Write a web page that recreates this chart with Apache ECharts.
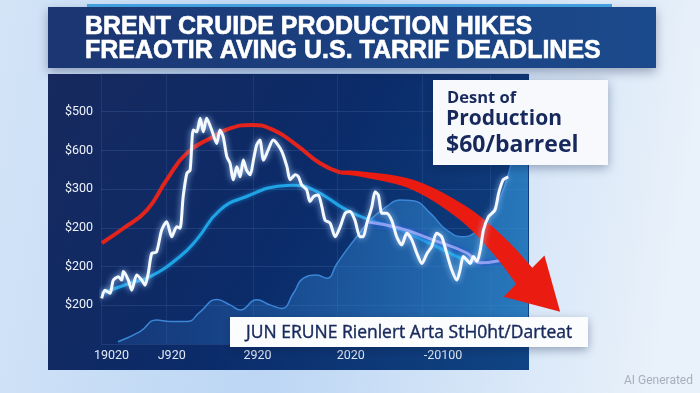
<!DOCTYPE html>
<html><head><meta charset="utf-8">
<script src="https://cdn.jsdelivr.net/npm/echarts@6/dist/echarts.min.js"></script>
<style>html,body{margin:0;padding:0;background:#d6e6f7;}#c{width:700px;height:393px;}</style>
</head><body><div id="c"></div>
<script>
// ---- texts ----
const titleLine1 = 'BRENT CRUIDE PRODUCTION HIKES';
const titleLine2 = 'FREAOTIR AVING U.S. TARRIF DEADLINES';
const calloutLines = ['Desnt of', 'Production', '$60/barreel'];
const bottomNote = 'JUN ERUNE Rienlert Arta StH0ht/Darteat';
const watermark = 'AI Generated';

// ---- axes ----
const yTickLabels = ['', '$200', '$200', '$200', '$300', '$600', '$500', ''];
const xTickPos = [2.3, 15.4, 34.1, 54.4, 74.5];
const xTickLabels = ['19020', 'J920', '2920', '2020', '-20100'];
const xGridPos = [0.15, 14.2, 33.2, 51.4, 69.9, 84.7];

// ---- series: white (price) ----
const whiteX = [0.15,0.87,1.96,2.68,3.77,4.51,4.86,5.95,6.69,7.78,8.87,9.59,10.3,11.05,12.1,13.2,14.3,15.4,16.5,17.2,17.9,18.7,19.4,20.1,20.85,21.6,22.3,23.0,24.1,25.2,25.9,26.6,27.4,28.1,28.8,29.6,30.3,31.0,31.7,32.5,33.2,33.9,34.6,35.4,36.4,37.5,38.3,39.4,40.5,41.2,42.3,43.0,43.7,44.8,45.5,46.3,47.3,48.1,48.8,49.9,51.0,52.1,53.2,54.2,55.3,56.4,57.1,57.9,59.0,59.7,60.4,61.2,62.2,63.3,64.4,65.5,66.6,67.7,68.8,69.9,71.0,72.0,73.1,74.2,75.3,76.4,77.5,78.2,78.9,79.7,80.4,81.1,81.9,82.6,83.3,84.4,85.8,86.6,87.6,88.7];
const whiteY = [11.8,13.9,13.1,16.5,17.4,16.5,18.7,16.5,13.9,17.8,16.5,15.2,18.3,23.4,23.8,29.4,31.6,27.7,30.3,29.9,38.1,44.1,44.9,55.3,54.8,58.3,54.8,58.3,55.3,51.8,55.3,53.6,48.4,46.7,42.4,45.8,43.2,47.5,44.9,43.7,47.5,51.4,52.7,47.5,50.1,52.7,51.8,49.7,45.8,42.4,43.7,43.2,41.1,39.8,36.8,38.1,38.5,35.5,32.0,31.2,27.7,30.3,33.8,34.2,32.0,27.7,27.7,31.2,35.5,39.3,38.5,33.8,33.8,32.0,27.7,25.6,28.6,26.9,23.4,20.8,23.4,25.1,28.6,27.7,23.4,19.1,16.5,19.1,22.6,21.7,20.8,22.6,21.3,24.3,29.4,32.9,34.6,38.9,42.4,43.2];

// ---- series: red trend ----
const redX = [0.2,4.9,10.0,14.3,18.7,24.5,28.1,32.8,37.5,42.6,47.7,52.1];
const redY = [26.1,29.9,34.6,42.4,49.3,53.6,55.7,56.6,55.3,51.4,46.7,44.3];

// ---- red arrow path (last point = arrow tip) ----
const arrowX = [52.1,57.1,68.0,78.9,86.9,92.6,100.0];
const arrowY = [44.3,43.8,41.1,33.8,25.1,17.0,8.3];

// ---- series: cyan average ----
const cyanX = [0.15,6.3,10.7,17.2,20.8,25.9,31.7,39.0,41.9,46.3,53.5,58.6,64.4,71.7,77.5,81.1];
const cyanY = [13.1,15.7,17.4,22.6,26.9,34.6,38.1,40.8,41.0,39.8,34.6,32.0,29.9,26.0,22.6,21.0];

// ---- series: lavender average ----
const lavX = [57.9,65.1,72.3,79.7,82.6,87.6];
const lavY = [31.6,29.9,26.9,23.5,21.0,21.7];

// ---- series: production area ----
const areaX = [3.7,8.5,12.1,15.0,18.7,21.6,25.2,28.1,30.3,33.9,36.8,39.4,41.9,44.1,47.0,49.2,51.4,53.5,55.7,58.6,62.2,65.1,68.0,71.7,75.3,78.9,82.6,86.1,88.0,89.5,90.8,93.0];
const areaY = [0.6,3.2,6.2,5.8,5.8,8.3,11.5,10.1,8.8,11.4,10.1,9.2,13.1,17.0,17.8,17.0,20.8,24.3,27.7,32.0,35.5,37.2,37.0,33.8,29.4,27.7,30.3,35.9,41.1,47.5,54.0,60.4];

const zip = (xs, ys) => xs.map((x, i) => [x, ys[i]]);

const chart = echarts.init(document.getElementById('c'), null, {renderer: 'canvas'});

function arrowRender(params, api) {
  if (params.dataIndex !== 0) return;
  const pts = arrowX.map((x, i) => api.coord([x, arrowY[i]]));
  const tip = pts.pop();
  const dense = [];
  for (let i = 0; i < pts.length - 1; i++) {
    const p0 = pts[Math.max(i - 1, 0)], p1 = pts[i], p2 = pts[i + 1], p3 = pts[Math.min(i + 2, pts.length - 1)];
    for (let s = 0; s < 12; s++) {
      const t = s / 12, t2 = t * t, t3 = t2 * t;
      dense.push([0, 1].map(k => 0.5 * ((2 * p1[k]) + (-p0[k] + p2[k]) * t + (2 * p0[k] - 5 * p1[k] + 4 * p2[k] - p3[k]) * t2 + (-p0[k] + 3 * p1[k] - 3 * p2[k] + p3[k]) * t3)));
    }
  }
  dense.push(pts[pts.length - 1]);
  const L = [0];
  for (let i = 1; i < dense.length; i++) L.push(L[i - 1] + Math.hypot(dense[i][0] - dense[i - 1][0], dense[i][1] - dense[i - 1][1]));
  const total = L[L.length - 1];
  const up = [], lo = [];
  dense.forEach((p, i) => {
    const a = dense[Math.max(i - 1, 0)], b = dense[Math.min(i + 1, dense.length - 1)];
    let dx = b[0] - a[0], dy = b[1] - a[1];
    const len = Math.hypot(dx, dy) || 1; dx /= len; dy /= len;
    const w = (4 + 19 * Math.pow(L[i] / total, 1.1)) / 2;
    up.push([p[0] + dy * w, p[1] - dx * w]);
    lo.push([p[0] - dy * w, p[1] + dx * w]);
  });
  const base = dense[dense.length - 1];
  let hx = tip[0] - base[0], hy = tip[1] - base[1];
  const hl = Math.hypot(hx, hy); hx /= hl; hy /= hl;
  const hw = 29;
  const bb = [base[0] - hx * 3, base[1] - hy * 3];
  const head = [[bb[0] + hy * hw, bb[1] - hx * hw], [tip[0], tip[1]], [bb[0] - hy * hw, bb[1] + hx * hw]];
  return {
    type: 'group',
    children: [
      {type: 'polygon', shape: {points: up.concat(lo.reverse())}, style: {fill: '#ea1c12'}},
      {type: 'polygon', shape: {points: head}, style: {fill: '#ea1c12'}}
    ]
  };
}

const option = {
  animation: false,
  backgroundColor: {
    type: 'linear', x: 0, y: 0, x2: 1, y2: 0.3,
    colorStops: [{offset: 0, color: '#d3e4f7'}, {offset: 0.45, color: '#bcd6f4'}, {offset: 1, color: '#e9f1fa'}]
  },
  grid: {left: 101, right: 172, top: 73, bottom: 49},
  xAxis: {
    type: 'value', min: 0, max: 93,
    axisLine: {show: false}, axisTick: {show: false}, splitLine: {show: false},
    axisLabel: {
      customValues: xTickPos,
      formatter: v => { const i = xTickPos.indexOf(v); return i >= 0 ? xTickLabels[i] : ''; },
      color: '#e2eaf6', fontSize: 12.5, fontFamily: 'Roboto', margin: 5
    }
  },
  yAxis: {
    type: 'value', min: 0, max: 70, interval: 10,
    axisLine: {show: false}, axisTick: {show: false},
    splitLine: {lineStyle: {color: 'rgba(90,130,200,0.22)', width: 1}},
    axisLabel: {
      formatter: v => yTickLabels[Math.round(v / 10)] || '',
      color: '#eef3fa', fontSize: 12.5, fontFamily: 'Roboto', margin: 8
    }
  },
  graphic: [
    {type: 'rect', z: -5, shape: {x: 48, y: 74, width: 481, height: 296},
      style: {fill: {type: 'linear', x: 0, y: 0, x2: 1, y2: 1,
        colorStops: [{offset: 0, color: '#17295d'}, {offset: 0.5, color: '#0b2b69'}, {offset: 1, color: '#0f4484'}]}}},
    {type: 'rect', z: 50, shape: {x: 87, y: 4, width: 525, height: 4}, style: {fill: '#44a6e4'}},
    {type: 'rect', z: 51, shape: {x: 48, y: 7, width: 608, height: 61},
      style: {fill: {type: 'linear', x: 0, y: 0, x2: 1, y2: 0,
        colorStops: [{offset: 0, color: '#1b3672'}, {offset: 1, color: '#1b4a8c'}]},
        shadowBlur: 10, shadowColor: 'rgba(20,30,70,0.35)', shadowOffsetY: 4}},
    {type: 'text', z: 52, x: 85, y: 27, style: {text: titleLine1, fill: '#ffffff', fontFamily: 'Liberation Sans', fontWeight: 'bold', fontSize: 25, verticalAlign: 'middle', stroke: '#ffffff', lineWidth: 0.6}},
    {type: 'text', z: 52, x: 85, y: 51, style: {text: titleLine2, fill: '#ffffff', fontFamily: 'Liberation Sans', fontWeight: 'bold', fontSize: 25, verticalAlign: 'middle', stroke: '#ffffff', lineWidth: 0.6}},
    {type: 'rect', z: 60, shape: {x: 433, y: 80, width: 175, height: 85},
      style: {fill: '#f7f9fc', shadowBlur: 10, shadowColor: 'rgba(10,30,70,0.35)', shadowOffsetY: 3}},
    {type: 'text', z: 61, x: 447, y: 98, style: {text: calloutLines[0], fill: '#17295c', fontFamily: 'Open Sans', fontWeight: 'bold', fontSize: 16.5, verticalAlign: 'middle'}},
    {type: 'text', z: 61, x: 446, y: 119, style: {text: calloutLines[1], fill: '#17295c', fontFamily: 'Open Sans', fontWeight: 'bold', fontSize: 21, verticalAlign: 'middle'}},
    {type: 'text', z: 61, x: 446, y: 145, style: {text: calloutLines[2], fill: '#17295c', fontFamily: 'Open Sans', fontWeight: 'bold', fontSize: 23, verticalAlign: 'middle'}},
    {type: 'rect', z: 60, shape: {x: 230, y: 317, width: 358, height: 30},
      style: {fill: '#fbfcfe', shadowBlur: 10, shadowColor: 'rgba(10,30,70,0.35)', shadowOffsetY: 3}},
    {type: 'text', z: 61, x: 246, y: 333, style: {text: bottomNote, fill: '#17295c', fontFamily: 'Open Sans', fontSize: 17.5, verticalAlign: 'middle', stroke: '#17295c', lineWidth: 0.4}},
    {type: 'text', z: 61, x: 693, y: 381, style: {text: watermark, fill: '#a6b0bd', fontFamily: 'Roboto', fontSize: 12, align: 'right', verticalAlign: 'middle'}}
  ],
  series: [
    {
      type: 'line', z: 2, data: zip(areaX, areaY), smooth: 0.5, symbol: 'none',
      lineStyle: {color: '#3b86d6', width: 1.5},
      areaStyle: {color: {type: 'linear', x: 0, y: 0, x2: 1, y2: 0,
        colorStops: [{offset: 0, color: 'rgba(40,100,180,0.35)'}, {offset: 0.6, color: 'rgba(45,125,200,0.72)'}, {offset: 1, color: 'rgba(55,155,225,0.9)'}]}},
      markLine: {silent: true, symbol: 'none', label: {show: false},
        lineStyle: {color: 'rgba(90,130,200,0.18)', type: 'solid', width: 1},
        data: xGridPos.map(v => ({xAxis: v}))}
    },
    {type: 'line', z: 3, data: zip(cyanX, cyanY), smooth: 0.5, symbol: 'none',
      lineStyle: {color: '#1fa4e6', width: 3, shadowBlur: 4, shadowColor: 'rgba(30,160,240,0.6)'}},
    {type: 'line', z: 4, data: zip(lavX, lavY), smooth: 0.5, symbol: 'none',
      lineStyle: {color: '#8f9ff0', width: 3, shadowBlur: 5, shadowColor: 'rgba(40,70,210,0.9)'}},
    {type: 'line', z: 5, data: zip(redX, redY), smooth: 0.5, symbol: 'none',
      lineStyle: {color: '#e3241c', width: 4}},
    {type: 'custom', z: 6, coordinateSystem: 'cartesian2d', clip: false,
      data: [[arrowX[0], arrowY[0]]], renderItem: arrowRender},
    {type: 'line', z: 7, data: zip(whiteX, whiteY), smooth: 0.25, symbol: 'none',
      lineStyle: {color: '#f4f8ff', width: 3, shadowBlur: 6, shadowColor: 'rgba(170,210,255,0.9)'}}
  ]
};
chart.setOption(option);
</script>
</body></html>
